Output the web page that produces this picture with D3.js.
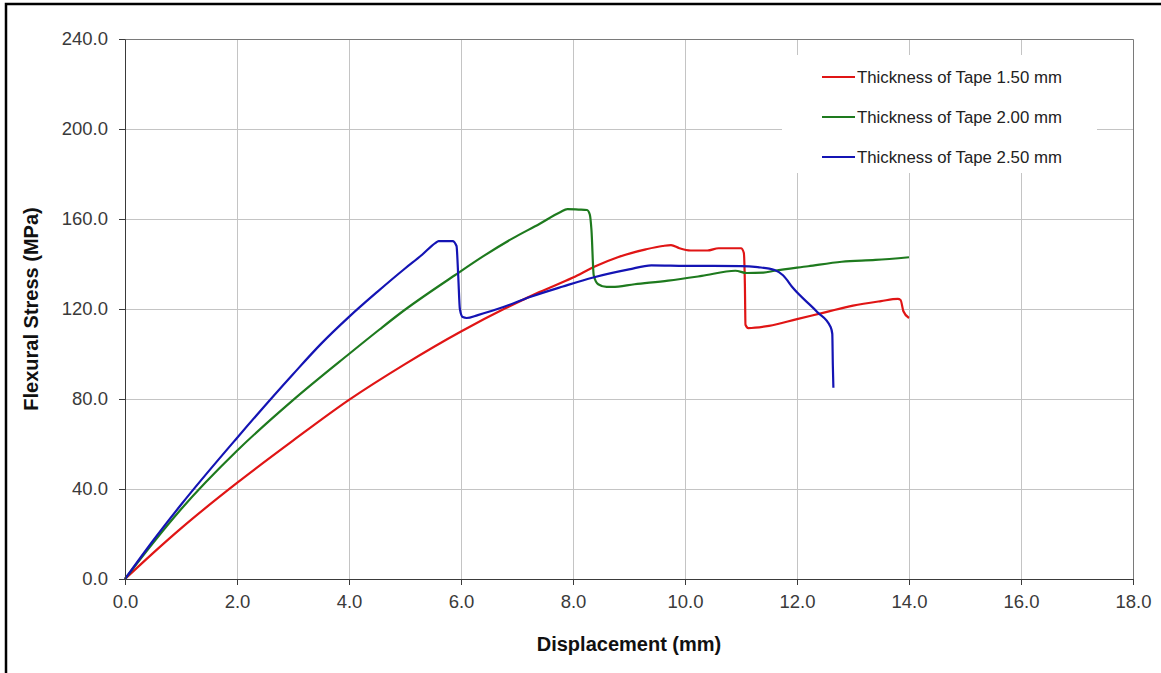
<!DOCTYPE html>
<html>
<head>
<meta charset="utf-8">
<script src="https://cdn.jsdelivr.net/npm/d3@7"></script>
<style>
  body { margin: 0; background: #fff; }
  svg { display: block; font-family: "Liberation Sans", Arial, sans-serif; }
</style>
</head>
<body>
<script>
const width = 1161
const height = 673
const margin = ({top: 39, right: 28, bottom: 94, left: 125});

// displacement (mm), flexural stress (MPa)
const tape150 = [
  [0, 0], [0.5, 11.5], [1.0, 22.5], [2.0, 42.7], [3.0, 61.5], [4.0, 79.6], [5.0, 95.5],
  [6.0, 110], [6.8, 120.4], [7.4, 127.5], [8.0, 134], [8.4, 139], [8.8, 143], [9.3, 146.5],
  [9.6, 148], [9.75, 148.4], [9.9, 147], [10.1, 146], [10.4, 146], [10.6, 147], [11.0, 147],
  [11.05, 145], [11.07, 130], [11.08, 113], [11.13, 111.5], [11.5, 112.5], [12.0, 115.5],
  [12.5, 118.5], [13.0, 121.5], [13.5, 123.5], [13.8, 124.5], [13.85, 124], [13.9, 119], [14.0, 116]
];
const tape200 = [
  [0, 0], [0.5, 16], [1.0, 31], [2.0, 57], [3.0, 79.5], [4.0, 100], [4.55, 111],
  [4.91, 118], [5.89, 135], [6.4, 143.5], [6.93, 151.5], [7.4, 157.8], [7.77, 163], [7.9, 164.4],
  [8.1, 164.2], [8.25, 164], [8.3, 162], [8.33, 155], [8.37, 135], [8.45, 131], [8.6, 129.8],
  [8.7, 129.8], [9.1, 131], [9.7, 132.6], [10.3, 134.7], [10.9, 137], [11.1, 136], [11.4, 136.2],
  [11.6, 137], [12.2, 139], [12.8, 141], [13.4, 141.8], [14.0, 143]
];
const tape250 = [
  [0, 0], [0.5, 17], [1.0, 33], [2.0, 62.7], [3.0, 91], [3.5, 104.5], [4.0, 116.5], [4.5, 127.5],
  [5.0, 138], [5.3, 144], [5.54, 149.3], [5.6, 150.2], [5.85, 150.2], [5.92, 148], [5.95, 135],
  [5.98, 120], [6.03, 116.4], [6.1, 116], [6.3, 117.3], [6.77, 121], [7.23, 125.3], [7.82, 130],
  [8.36, 134], [9.0, 137.6], [9.4, 139.4], [10.0, 139.2], [11.0, 139.1], [11.3, 138.6],
  [11.6, 137.3], [11.75, 135], [11.93, 129.3], [12.36, 118.7], [12.6, 112], [12.63, 109],
  [12.64, 95], [12.65, 85]
];

const seriesNames = ["Thickness of Tape 1.50 mm", "Thickness of Tape 2.00 mm", "Thickness of Tape 2.50 mm"];
const seriesColors = ["#e01515", "#1e7a1e", "#1414b4"];
const xTicks = [0, 2, 4, 6, 8, 10, 12, 14, 16, 18];
const yTicks = [0, 40, 80, 120, 160, 200, 240];

const x = d3.scaleLinear()
    .domain([0, 18])
    .range([margin.left, width - margin.right])

const y = d3.scaleLinear()
    .domain([0, 240])
    .range([height - margin.bottom, margin.top])

const xAxis = g => g
    .attr("transform", `translate(0,${height - margin.bottom})`)
    .call(d3.axisBottom(x).tickValues(xTicks).tickFormat(d3.format(".1f")).tickSize(6).tickSizeOuter(0).tickPadding(10))
    .call(g => g.select(".domain").attr("stroke", "#3a3a3a"))
    .call(g => g.selectAll(".tick line").attr("stroke", "#3a3a3a"))
    .call(g => g.selectAll(".tick text").attr("fill", "#3a3a3a").attr("font-size", 18.5).attr("font-family", null))

const yAxis = g => g
    .attr("transform", `translate(${margin.left},0)`)
    .call(d3.axisLeft(y).tickValues(yTicks).tickFormat(d3.format(".1f")).tickSize(6).tickSizeOuter(0).tickPadding(11))
    .call(g => g.select(".domain").attr("stroke", "#3a3a3a"))
    .call(g => g.selectAll(".tick line").attr("stroke", "#3a3a3a"))
    .call(g => g.selectAll(".tick text").attr("fill", "#3a3a3a").attr("font-size", 18.5).attr("font-family", null))

const chart = function () {
    const svg = d3.select("body").append("svg")
        .attr("width", width)
        .attr("height", height)
        .attr("viewBox", [0, 0, width, height]);

    // outer frame (cut off at right / bottom in the original)
    svg.append("rect")
        .attr("x", 6).attr("y", 4)
        .attr("width", width + 20).attr("height", height + 20)
        .attr("fill", "none").attr("stroke", "#000").attr("stroke-width", 2.5);

    // grid
    svg.append("g")
        .attr("stroke", "#c4c4c4")
        .selectAll("line.v")
        .data(xTicks.slice(1, -1))
        .join("line")
        .attr("x1", d => x(d) + 0.5).attr("x2", d => x(d) + 0.5)
        .attr("y1", margin.top).attr("y2", height - margin.bottom);

    svg.append("g")
        .attr("stroke", "#c4c4c4")
        .selectAll("line.h")
        .data(yTicks.slice(1, -1))
        .join("line")
        .attr("x1", margin.left).attr("x2", width - margin.right)
        .attr("y1", d => y(d) + 0.5).attr("y2", d => y(d) + 0.5);

    // plot area top/right edges
    svg.append("path")
        .attr("fill", "none").attr("stroke", "#7a7a7a")
        .attr("d", `M${margin.left},${margin.top + 0.5}H${width - margin.right + 0.5}V${height - margin.bottom}`);

    // legend box hides the grid behind it
    const lx = 782, ly = 55;
    svg.append("rect")
        .attr("x", lx).attr("y", ly)
        .attr("width", 315).attr("height", 118)
        .attr("fill", "#fff");

    const line = d3.line()
        .curve(d3.curveMonotoneX)
        .x(d => x(d[0]))
        .y(d => y(d[1]));

    svg.append("g")
        .attr("fill", "none")
        .attr("stroke-width", 2.2)
        .attr("stroke-linejoin", "round")
        .selectAll("path")
        .data([tape150, tape200, tape250])
        .join("path")
        .attr("stroke", (d, i) => seriesColors[i])
        .attr("d", line);

    svg.append("g").call(xAxis);
    svg.append("g").call(yAxis);

    const leg = svg.append("g")
        .selectAll("g")
        .data(seriesNames)
        .join("g")
        .attr("transform", (d, i) => `translate(${lx + 40},${ly + 22 + i * 40})`);

    leg.append("line")
        .attr("x1", 0).attr("x2", 33)
        .attr("stroke", (d, i) => seriesColors[i])
        .attr("stroke-width", 2);

    leg.append("text")
        .attr("x", 35)
        .attr("dy", "0.35em")
        .attr("font-size", 16.8)
        .attr("fill", "#222")
        .text(d => d);

    svg.append("text")
        .attr("x", (margin.left + width - margin.right) / 2)
        .attr("y", 651)
        .attr("text-anchor", "middle")
        .attr("font-weight", "bold")
        .attr("font-size", 20)
        .attr("fill", "#111")
        .text("Displacement (mm)");

    svg.append("text")
        .attr("transform", `translate(38,${(margin.top + height - margin.bottom) / 2}) rotate(-90)`)
        .attr("text-anchor", "middle")
        .attr("font-weight", "bold")
        .attr("font-size", 20)
        .attr("fill", "#111")
        .text("Flexural Stress (MPa)");

    return svg.node();
}

chart();
</script>
</body>
</html>
